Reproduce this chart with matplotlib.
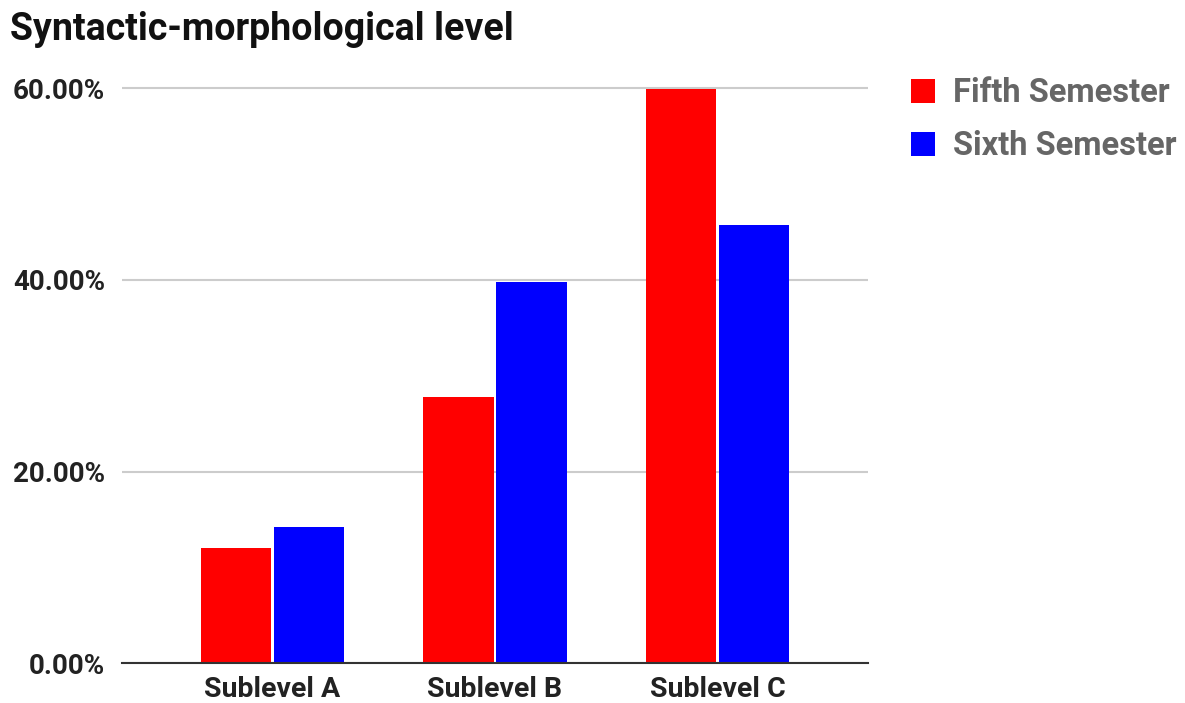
import matplotlib.pyplot as plt
import numpy as np
from matplotlib.ticker import FuncFormatter

# Data
categories = ["Sublevel A", "Sublevel B", "Sublevel C"]
fifth_semester = [12.0, 27.8, 59.9]
sixth_semester = [14.2, 39.8, 45.7]
series_names = ["Fifth Semester", "Sixth Semester"]
y_ticks = [0, 20, 40, 60]

plt.rcParams['font.family'] = ['Roboto', 'DejaVu Sans']

x = np.arange(len(categories))
bar_width = 0.317
offset = 0.1645

fig = plt.figure(figsize=(11.85, 7.03), dpi=100)
ax = fig.add_axes([122 / 1185, 1 - 663.3 / 703, (868 - 122) / 1185, (663.3 - 78.7) / 703])

ax.bar(x - offset, fifth_semester, width=bar_width, color="#ff0000", label=series_names[0], zorder=3)
ax.bar(x + offset, sixth_semester, width=bar_width, color="#0000ff", label=series_names[1], zorder=3)

ax.set_xlim(-0.677, 2.677)
ax.set_ylim(0, 61)
ax.set_xticks(x, categories)
ax.set_yticks(y_ticks)
ax.yaxis.set_major_formatter(FuncFormatter(lambda v, p: f"{v:.2f}%"))

ax.tick_params(axis='both', length=0, colors="#222222")
ax.tick_params(axis='y', pad=12, labelsize=20)
ax.tick_params(axis='x', pad=9, labelsize=20.5)
for lbl in ax.get_xticklabels() + ax.get_yticklabels():
    lbl.set_fontweight('bold')

ax.grid(axis='y', color="#cccccc", linewidth=1.5, zorder=0)
for s in ["top", "right", "left"]:
    ax.spines[s].set_visible(False)
ax.spines["bottom"].set_color("#333333")
ax.spines["bottom"].set_linewidth(1.5)
ax.spines["bottom"].set_zorder(4)

leg = ax.legend(loc="upper left", bbox_to_anchor=(911 / 1185, 1 - 77 / 703),
                bbox_transform=fig.transFigure, frameon=False, fontsize=23.5,
                handlelength=0.75, handleheight=0.75, handletextpad=0.55,
                labelspacing=0.65, borderaxespad=0, borderpad=0)
for t in leg.get_texts():
    t.set_color("#666666")
    t.set_fontweight('bold')

fig.text(10 / 1185, 1 - 40 / 703, "Syntactic-morphological level", fontsize=27,
         fontweight='bold', color="#111111", va='baseline', ha='left')

fig.savefig("out.png", dpi=100)
